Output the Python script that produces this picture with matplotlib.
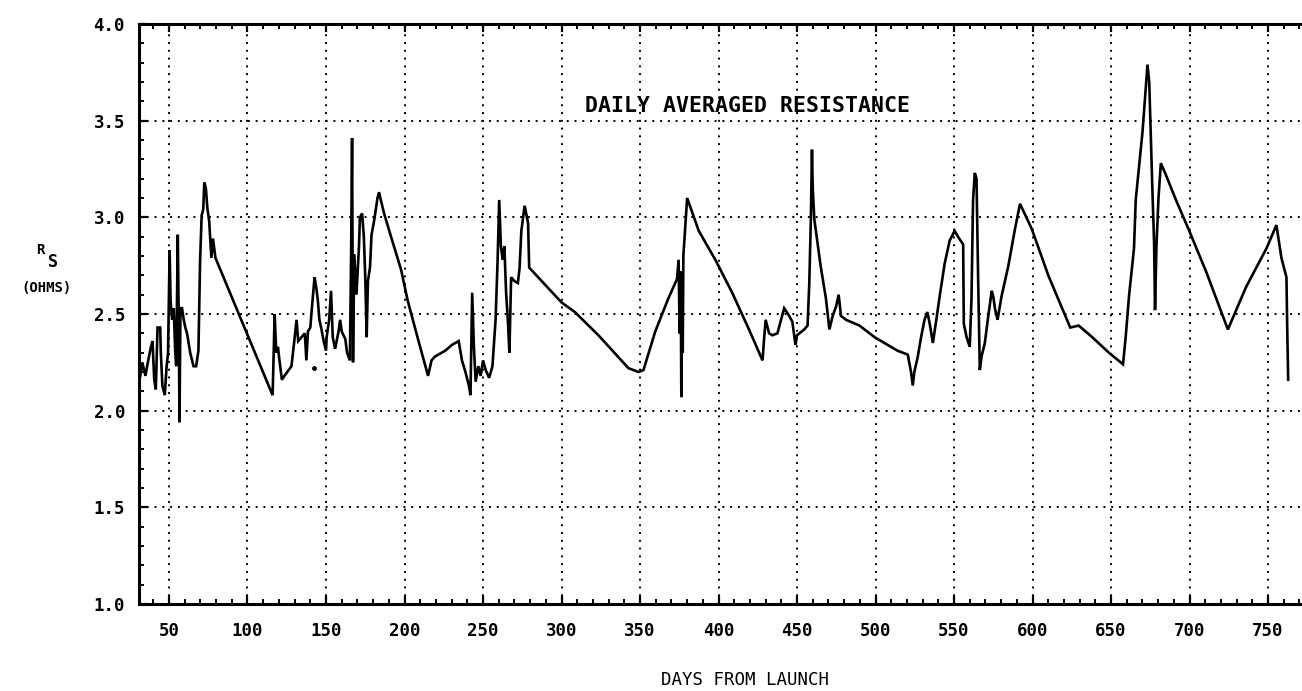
import matplotlib
matplotlib.use("Agg")
import matplotlib.pyplot as plt
from matplotlib.ticker import MultipleLocator, FormatStrFormatter

# daily averaged resistance
days = [30.2, 31.5, 33, 35, 37, 38.5, 39.5, 40.6, 41.6, 42.7, 44.4, 44.8, 45.8, 47.3, 48.5, 49.4,
        50.4, 51, 52, 53, 54, 54.6, 55.6, 56.2, 56.7, 57.3, 58.3, 59.4, 60.4, 61.5, 63.5, 65.6,
        67.3, 68.75, 69.8, 70.8, 71.8, 72.5, 73.5, 74.4, 75.6, 77, 78, 79.6,
        116, 117.3, 118.3, 119.4, 120.2, 121.9, 123.5, 128, 129.8, 131.25, 132.3, 134.4, 136.5,
        137.5, 138.5, 140, 141, 142.7, 143.75, 144.8, 145.8, 146.9, 148.5, 150,
        150.4, 152, 153.2, 154.3, 155.8, 158, 159, 160, 162.3, 163.4, 165.2, 166, 166.6, 167.2,
        168, 169.4, 171, 171.6, 173, 174.1, 175, 175.9, 176.7, 178, 179, 180.6, 182.8, 183.8,
        184.9, 187, 191.4, 197.8, 202, 208.6, 215, 217.2, 219.4, 225.9, 230.2, 234.5, 236.6,
        238.8, 241, 242, 243.1, 244.2, 245.3, 247, 248.5, 250, 251.7, 253.9, 256, 258, 259.3,
        260.3, 261.4, 262.5, 263.6, 264.7, 265.8, 266.8, 267.9, 270, 272.2, 273.3, 274.4, 275.9,
        276.5, 278.7, 279.4,
        300, 308.5, 323.5, 342.6, 349, 352.2, 359.7, 368, 373.5, 374.6, 375.2, 375.9, 376.3,
        376.8, 377.2, 377.6, 378, 380, 387.4, 398, 408.7, 419.4, 428, 429, 430, 432.2, 434.3,
        437.5, 441.8, 445, 447, 449, 450, 454.6, 456.7, 457.8, 458.8, 459.5, 460, 461, 463, 465,
        468.4, 470.6, 472.7, 474.9, 476.5, 478, 481.2, 489.8, 499.4, 514, 520.5, 522.6, 523.7,
        524.7, 526.9, 529, 531.2, 533, 534.5, 535.5, 536.5, 538.7, 540.8, 544, 547.2, 550.4,
        552.5, 555.8, 556.2, 558, 560, 561.1, 562.1, 563.2, 564.3, 565.3, 566.4, 567.5, 569.6,
        571.8, 574, 575, 576, 577.7, 580.2, 584.6, 588.8, 592, 599.5, 610, 624, 629.4, 638,
        648.6, 657.6, 659.3, 661.4, 664.6, 665.7, 670, 673.2, 674.3, 675.3, 676.4, 677.4, 678,
        678.9, 680.2, 681.7, 684.9, 691.3, 699.8, 710.5, 724.4, 736, 749, 755.3, 758.5, 761.7,
        762.2, 762.8]

resistance = [2.22, 2.17, 2.25, 2.18, 2.27, 2.33, 2.36, 2.16, 2.11, 2.43, 2.43, 2.30, 2.13, 2.08, 2.23, 2.30,
              2.83, 2.57, 2.47, 2.53, 2.30, 2.23, 2.91, 2.47, 1.94, 2.53, 2.53, 2.47, 2.43, 2.40, 2.30, 2.23,
              2.23, 2.31, 2.77, 3.01, 3.04, 3.18, 3.15, 3.05, 2.98, 2.79, 2.89, 2.79,
              2.08, 2.50, 2.30, 2.33, 2.27, 2.16, 2.18, 2.23, 2.36, 2.47, 2.36, 2.38, 2.40,
              2.26, 2.41, 2.43, 2.53, 2.69, 2.64, 2.57, 2.47, 2.43, 2.36, 2.31,
              2.38, 2.47, 2.62, 2.38, 2.32, 2.41, 2.47, 2.41, 2.37, 2.30, 2.26, 2.81, 3.41, 2.25,
              2.81, 2.60, 2.85, 3.00, 3.02, 2.90, 2.69, 2.38, 2.67, 2.74, 2.91, 2.98, 3.10, 3.13,
              3.09, 3.02, 2.90, 2.73, 2.57, 2.37, 2.18, 2.26, 2.28, 2.31, 2.34, 2.36, 2.26,
              2.20, 2.13, 2.08, 2.61, 2.33, 2.15, 2.23, 2.18, 2.26, 2.21, 2.17, 2.23, 2.47, 2.78,
              3.09, 2.85, 2.78, 2.85, 2.61, 2.47, 2.30, 2.69, 2.67, 2.66, 2.74, 2.93, 3.02,
              3.06, 2.97, 2.74,
              2.56, 2.51, 2.39, 2.22, 2.20, 2.21, 2.41, 2.58, 2.68, 2.78, 2.40, 2.72, 2.07,
              2.60, 2.30, 2.80, 2.85, 3.10, 2.93, 2.78, 2.61, 2.42, 2.26, 2.37, 2.47, 2.40, 2.39,
              2.40, 2.53, 2.49, 2.46, 2.34, 2.39, 2.42, 2.44, 2.66, 2.99, 3.35, 3.15, 2.99, 2.87, 2.75,
              2.58, 2.42, 2.49, 2.54, 2.60, 2.49, 2.47, 2.44, 2.38, 2.31, 2.29, 2.20, 2.13,
              2.20, 2.28, 2.38, 2.47, 2.51, 2.45, 2.40, 2.35, 2.47, 2.59, 2.76, 2.88, 2.93,
              2.90, 2.86, 2.45, 2.38, 2.33, 2.58, 3.09, 3.23, 3.20, 2.70, 2.21, 2.28, 2.35,
              2.49, 2.62, 2.59, 2.53, 2.47, 2.59, 2.75, 2.94, 3.07, 2.94, 2.70, 2.43, 2.44, 2.38,
              2.30, 2.24, 2.38, 2.59, 2.84, 3.09, 3.44, 3.79, 3.70, 3.42, 3.12, 2.87, 2.52,
              2.85, 3.10, 3.28, 3.22, 3.09, 2.93, 2.72, 2.42, 2.64, 2.84, 2.96, 2.79, 2.69,
              2.42, 2.16]

# lone point left unconnected on the plot
dot_day = [142.3]
dot_res = [2.22]

mono = "DejaVu Sans Mono"

fig = plt.figure(figsize=(13.02, 6.91), dpi=100)
ax = fig.add_axes([139 / 1302, 1 - 604 / 691, 1 - 139 / 1302, 580 / 691])

ax.plot(days, resistance, color="black", lw=1.9, solid_joinstyle="miter")
ax.plot(dot_day, dot_res, "o", color="black", ms=2.5)

ax.set_xlim(30.9, 771.6)
ax.set_ylim(1.0, 4.0)
ax.xaxis.set_major_locator(MultipleLocator(50))
ax.xaxis.set_minor_locator(MultipleLocator(10))
ax.yaxis.set_major_locator(MultipleLocator(0.5))
ax.yaxis.set_minor_locator(MultipleLocator(0.1))
ax.yaxis.set_major_formatter(FormatStrFormatter("%.1f"))

ax.grid(True, which="major", color="black", lw=1.4, linestyle=(0, (1, 3)))

ax.spines["right"].set_visible(False)
for side in ["left", "bottom", "top"]:
    ax.spines[side].set_linewidth(2.2)

ax.tick_params(which="both", direction="in", top=True, right=False, color="black")
ax.tick_params(which="major", length=6, width=1.6)
ax.tick_params(which="minor", length=3.5, width=1.4)
ax.tick_params(axis="x", which="major", pad=13)
ax.tick_params(axis="y", which="major", pad=10)

for lbl in ax.get_xticklabels() + ax.get_yticklabels():
    lbl.set_fontfamily(mono)
    lbl.set_fontweight("bold")
    lbl.set_fontsize(12.5)

ax.text(418.5, 3.575, "DAILY AVERAGED RESISTANCE", family=mono, fontweight="bold",
        fontsize=15.5, ha="center", va="center")

fig.text(40 / 1302, 1 - 250 / 691, "R", family=mono, fontweight="bold", fontsize=10,
         ha="center", va="center")
fig.text(53 / 1302, 1 - 262 / 691, "S", family=mono, fontweight="bold", fontsize=12,
         ha="center", va="center")
fig.text(46 / 1302, 1 - 288 / 691, "(OHMS)", family=mono, fontweight="bold", fontsize=10,
         ha="center", va="center")
fig.text(745 / 1302, 1 - 680 / 691, "DAYS FROM LAUNCH", family=mono, fontsize=12.5,
         ha="center", va="center")

fig.savefig("out.png", dpi=100)
